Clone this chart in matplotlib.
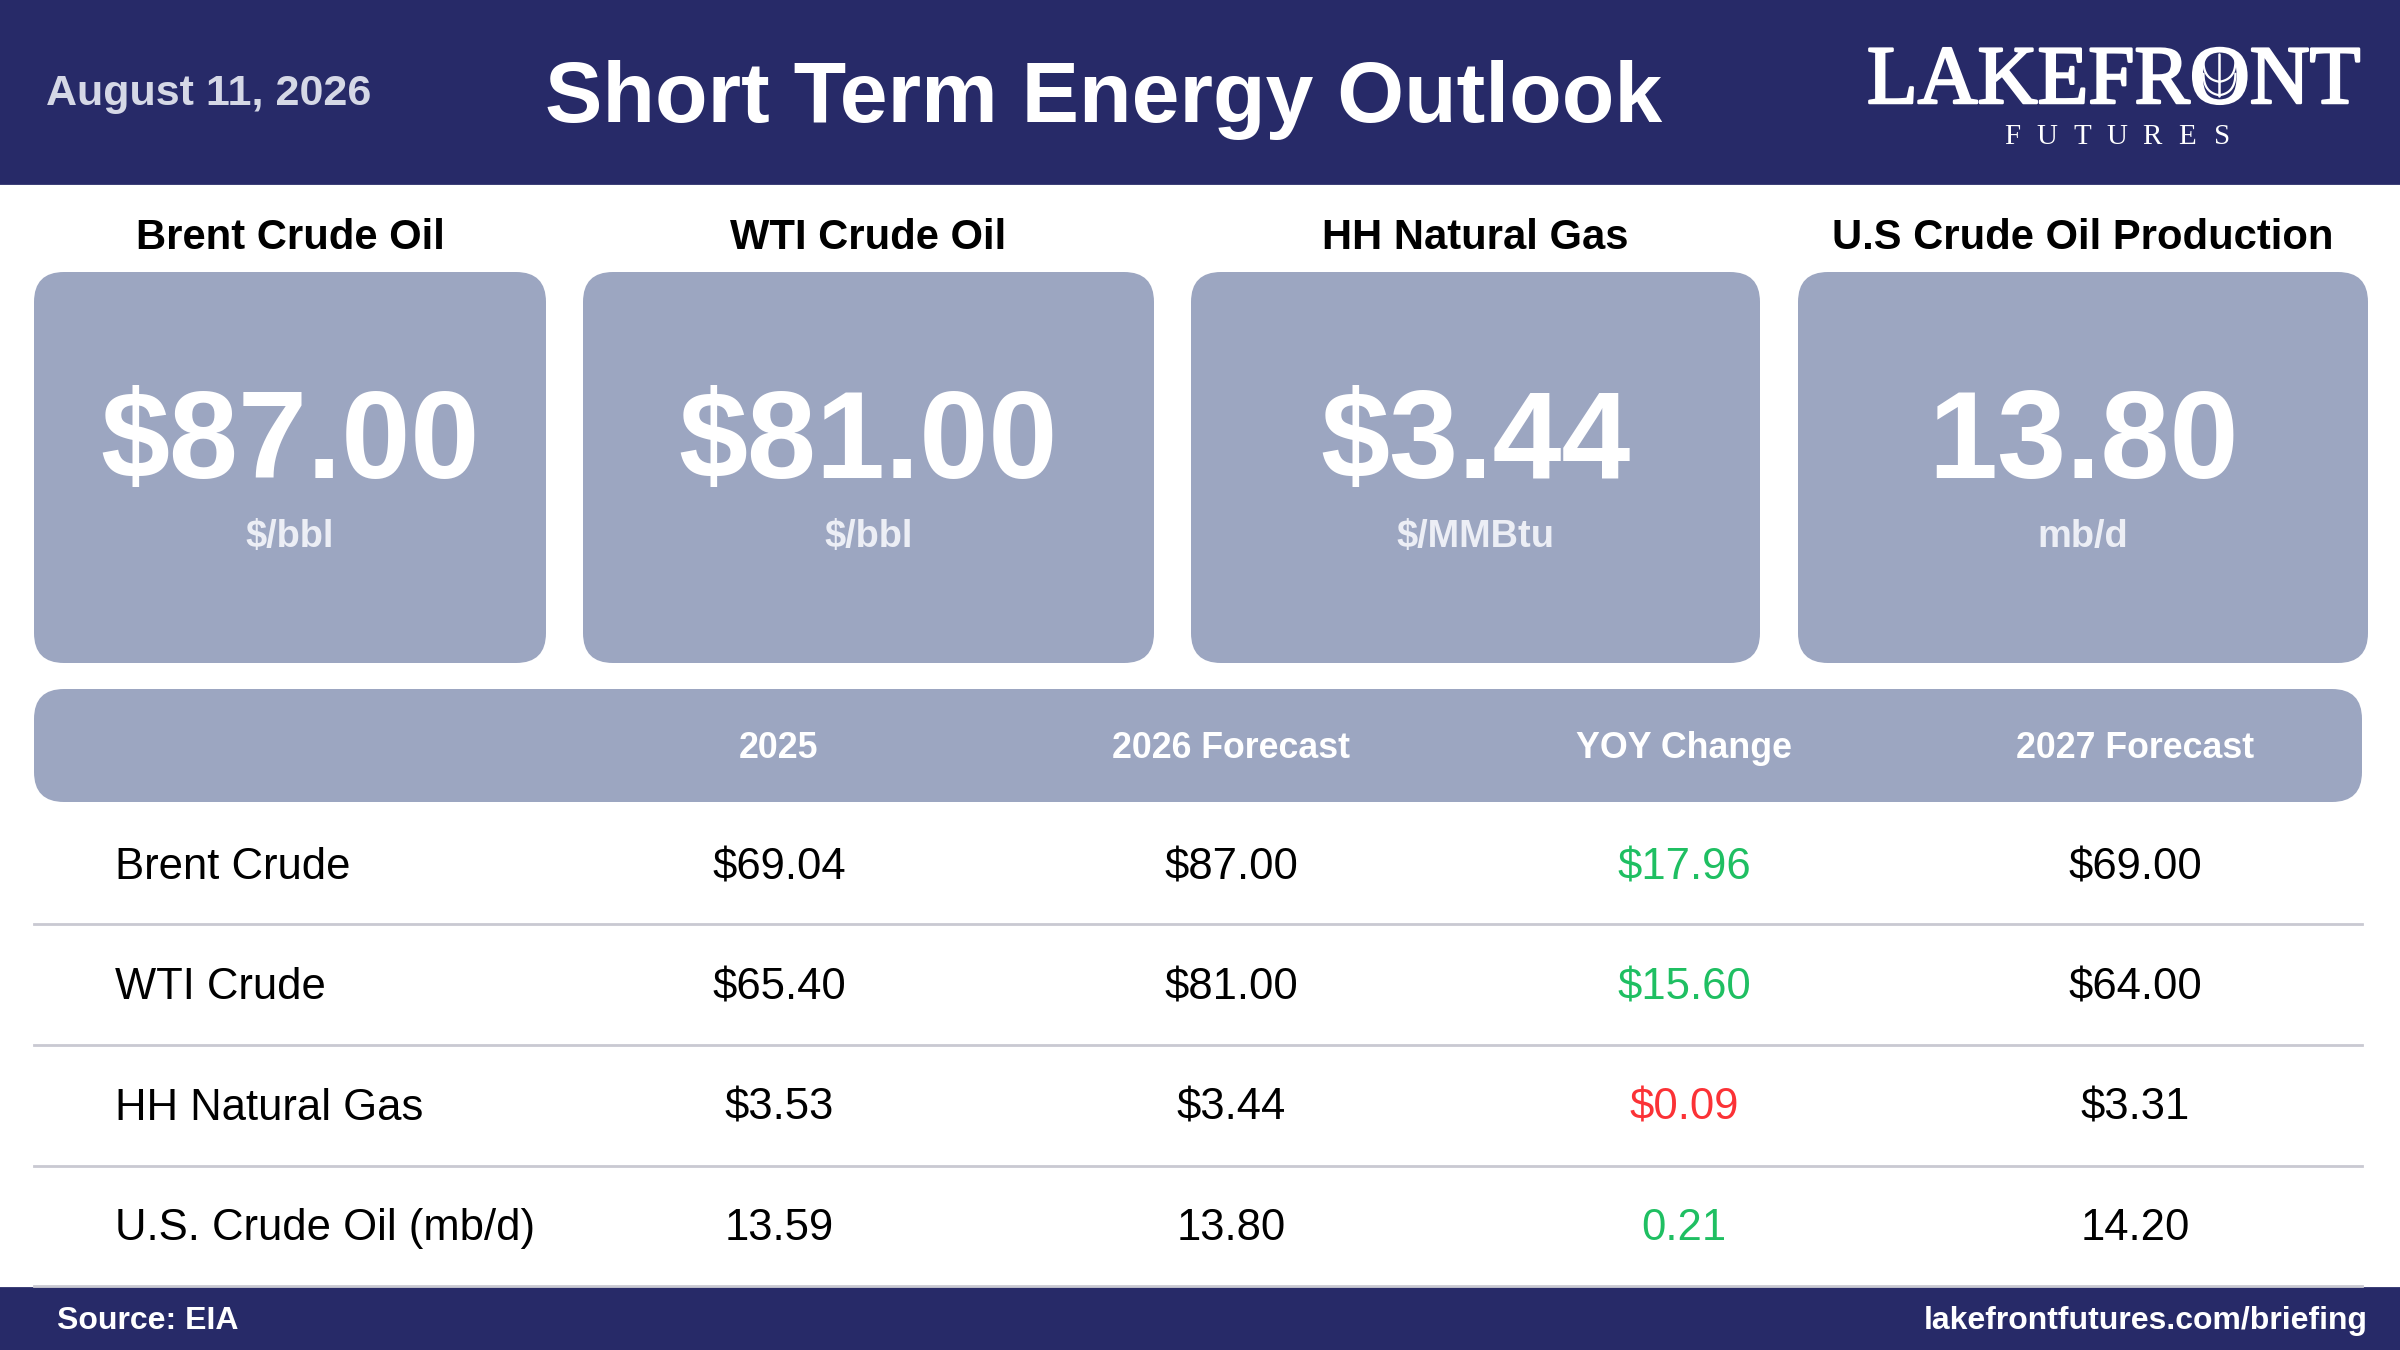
import numpy as np
import matplotlib
matplotlib.use("Agg")
import matplotlib.pyplot as plt
from matplotlib.patches import FancyBboxPatch, Rectangle
import matplotlib.patheffects as pe

# ---------------- data ----------------
report_date = "August 11, 2026"
title = "Short Term Energy Outlook"
card_titles = ["Brent Crude Oil", "WTI Crude Oil", "HH Natural Gas", "U.S Crude Oil Production"]
card_values = [87.00, 81.00, 3.44, 13.80]
card_is_dollar = [True, True, True, False]
card_units = ["$/bbl", "$/bbl", "$/MMBtu", "mb/d"]

col_headers = ["2025", "2026 Forecast", "YOY Change", "2027 Forecast"]
row_labels = ["Brent Crude", "WTI Crude", "HH Natural Gas", "U.S. Crude Oil (mb/d)"]
row_is_dollar = [True, True, True, False]
vals_2025 = [69.04, 65.40, 3.53, 13.59]
vals_2026 = [87.00, 81.00, 3.44, 13.80]
vals_yoy = [17.96, 15.60, -0.09, 0.21]
vals_2027 = [69.00, 64.00, 3.31, 14.20]

source_text = "Source: EIA"
url_text = "lakefrontfutures.com/briefing"

# ---------------- style ----------------
NAVY = "#272a68"
CARD = "#9ca6c1"
GREEN = "#1fbf62"
RED = "#fb3236"
LINE = "#c9c9d2"
SANS = "Liberation Sans"
SERIF = "Liberation Serif"

W, H, DPI = 2400, 1350, 200
fig = plt.figure(figsize=(W / DPI, H / DPI), dpi=DPI)
ax = fig.add_axes([0, 0, 1, 1])
ax.set_xlim(0, W)
ax.set_ylim(H, 0)
ax.axis("off")


def pt(px_em):
    return px_em * 72 / DPI


def fmt(v, dollar):
    return ("$" if dollar else "") + f"{abs(v):.2f}"


# header
ax.add_patch(Rectangle((0, 0), W, 183, color=NAVY, zorder=1))
ax.text(46, 105, report_date, ha="left", va="baseline", family=SANS, weight="bold",
        fontsize=pt(43), color="#d5d8e6", zorder=3)
ax.text(1104, 122, title, ha="center", va="baseline", family=SANS, weight="bold",
        fontsize=pt(86), color="white", zorder=3)

# logo
logo_fs = pt(83)
lx, lb = 1867, 103
logo_kw = dict(family=SERIF, fontsize=logo_fs, color="white", zorder=3)
ax.text(lx, lb, "LAKEFRONT", ha="left", va="baseline",
        path_effects=[pe.withStroke(linewidth=0.9, foreground="white")], **logo_kw)
renderer = fig.canvas.get_renderer()


def width_of(s):
    t = ax.text(0, 0, s, **logo_kw)
    bb = t.get_window_extent(renderer=renderer)
    t.remove()
    return bb.width


w1 = width_of("LAKEFR")
w2 = width_of("LAKEFRO")
ox0, ox1 = lx + w1, lx + w2
cx = (ox0 + ox1) / 2
cap = 56
cy = lb - cap / 2
iw = (ox1 - ox0) * 0.28
ih = cap * 0.40
# leaf midrib
ax.plot([cx, cx], [cy + ih * 0.95, cy - ih * 0.95], color="white", lw=0.9, zorder=4,
        solid_capstyle="round")


def bez(p0, p1, p2, n=30):
    t = np.linspace(0, 1, n)[:, None]
    return (1 - t) ** 2 * np.array(p0) + 2 * (1 - t) * t * np.array(p1) + t ** 2 * np.array(p2)


for s in (-1, 1):
    for (ys, ye) in ((cy + ih * 0.9, cy - ih * 0.05), (cy + ih * 0.3, cy - ih * 0.6)):
        c = bez((cx, ys), (cx + s * iw * 0.95, ys - ih * 0.1), (cx + s * iw * 0.95, ye))
        ax.plot(c[:, 0], c[:, 1], color="white", lw=0.8, zorder=4)

fut = "FUTURES"
for i, ch in enumerate(fut):
    x = 2012 + i * (2222 - 2012) / (len(fut) - 1)
    ax.text(x, 144, ch, ha="center", va="baseline", family=SERIF, fontsize=pt(29),
            color="white", zorder=3)

# cards
card_x = [(34, 546), (583, 1154), (1191, 1760), (1798, 2368)]
for (x0, x1), ttl, val, isd, unit in zip(card_x, card_titles, card_values, card_is_dollar, card_units):
    ax.add_patch(FancyBboxPatch((x0, 272), x1 - x0, 391, boxstyle="round,pad=0,rounding_size=30",
                                fc=CARD, ec="none", zorder=2))
    xc = (x0 + x1) / 2
    ax.text(xc, 249, ttl, ha="center", va="baseline", family=SANS, weight="bold",
            fontsize=pt(41.8), color="black", zorder=3)
    ax.text(xc, 478, fmt(val, isd), ha="center", va="baseline", family=SANS, weight="bold",
            fontsize=pt(124), color="white", zorder=3)
    ax.text(xc, 547, unit, ha="center", va="baseline", family=SANS, weight="bold",
            fontsize=pt(38), color="#eceef5", zorder=3)

# table header
ax.add_patch(FancyBboxPatch((34, 689), 2362 - 34, 113, boxstyle="round,pad=0,rounding_size=30",
                            fc=CARD, ec="none", zorder=2))
col_x = [779, 1231, 1684, 2135]
for xh, h in zip(col_x, col_headers):
    ax.text(xh, 758, h, ha="center", va="baseline", family=SANS, weight="bold",
            fontsize=pt(35.8), color="white", zorder=3)

# rows
row_base = [879, 999, 1120, 1240]
sep_y = [924, 1045, 1166, 1286]
row_fs = pt(43.7)
for i, lab in enumerate(row_labels):
    yb = row_base[i]
    d = row_is_dollar[i]
    ax.text(115, yb, lab, ha="left", va="baseline", family=SANS, fontsize=row_fs, color="black", zorder=3)
    cells = [vals_2025[i], vals_2026[i], vals_yoy[i], vals_2027[i]]
    for j, v in enumerate(cells):
        color = "black"
        if j == 2:
            color = GREEN if v >= 0 else RED
        ax.text(col_x[j], yb, fmt(v, d), ha="center", va="baseline", family=SANS,
                fontsize=row_fs, color=color, zorder=3)
for y in sep_y:
    ax.plot([34, 2362], [y, y], color=LINE, lw=1.0, zorder=2)

# footer
ax.add_patch(Rectangle((0, 1288), W, H - 1288, color=NAVY, zorder=1))
ax.text(57, 1329, source_text, ha="left", va="baseline", family=SANS, weight="bold",
        fontsize=pt(32), color="white", zorder=3)
ax.text(2368, 1329, url_text, ha="right", va="baseline", family=SANS, weight="bold",
        fontsize=pt(32), color="white", zorder=3)

fig.savefig("out.png", dpi=DPI, facecolor="white")
